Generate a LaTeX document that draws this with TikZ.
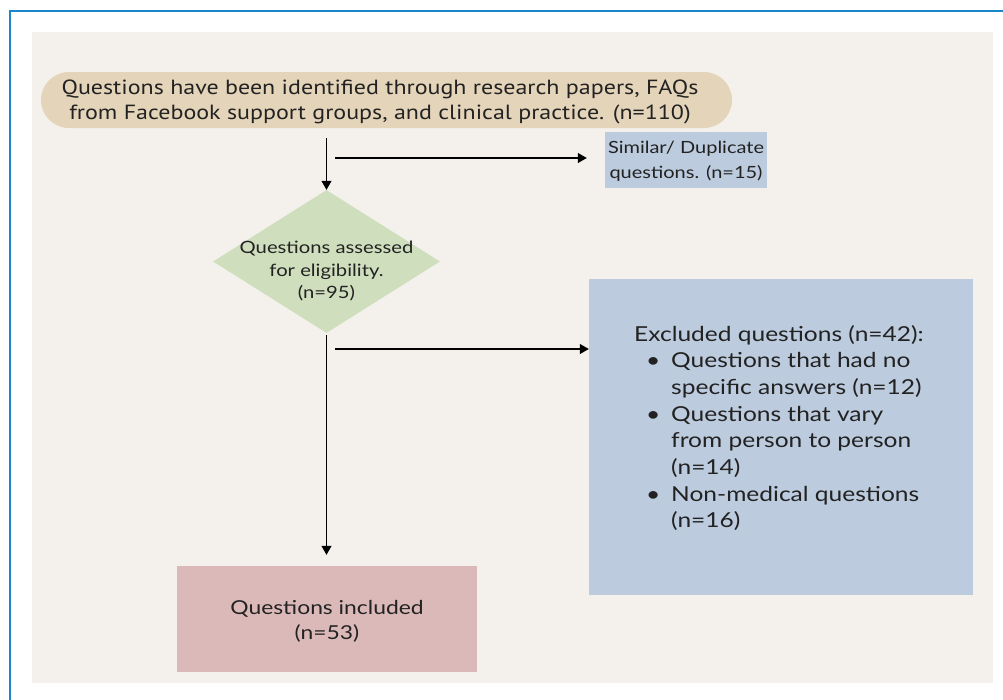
\documentclass[tikz,border=0pt]{standalone}
\usepackage{fontspec}
\setmainfont{Lato}[FakeStretch=1.19]
\newfontfamily\pillfont{PT Sans}[FakeStretch=1.17]
\usetikzlibrary{arrows.meta,shapes.geometric}

\definecolor{frameblue}{HTML}{1B87C9}
\definecolor{panel}{HTML}{F4F1EC}
\definecolor{pilltan}{HTML}{E4D4B9}
\definecolor{boxblue}{HTML}{BCCBDD}
\definecolor{diagreen}{HTML}{CFDFBE}
\definecolor{boxrose}{HTML}{DCB9B9}
\definecolor{ink}{HTML}{222222}

% bullet item helpers for the exclusion list
\newcommand\bulitem{\makebox[37pt][l]{\hspace{12pt}\textbullet}}
\newcommand\bulcont{\hspace{37pt}}

\begin{document}
\begin{tikzpicture}[x=1pt,y=-1pt,
  every node/.style={text=ink},
  boxnode/.style={rectangle, inner sep=0pt, draw=none},
  txt/.style={inner sep=0pt, align=center},
  arr/.style={draw=black, line width=1.1pt, -{Triangle[length=9pt,width=10pt]}},
]
\useasboundingbox (0,0) rectangle (1003,699);
\fill[white] (0,0) rectangle (1003,699);
\draw[frameblue, line width=2.4pt] (10,712) -- (10,11) -- (1016,11);
\fill[panel] (32,32) rectangle (993,683);

% source box
\node[boxnode, fill=pilltan, minimum width=691pt, minimum height=56pt,
      rounded corners=28pt] (src) at (386.5,100) {};
\node[txt, font=\pillfont\fontsize{20.5}{25}\selectfont] (srct) at (380,102)
  {Questions have been identified through research papers, FAQs\\
   from Facebook support groups, and clinical practice. (n=110)};

% duplicates box
\node[boxnode, fill=boxblue, minimum width=162pt, minimum height=56pt] (dup) at (686,160) {};
\node[txt, font=\fontsize{16.8}{25}\selectfont] (dupt) at (686,161)
  {Similar/ Duplicate\\questions. (n=15)};

% eligibility decision
\node[diamond, inner sep=0pt, fill=diagreen, minimum width=227pt, minimum height=143pt,
      aspect=1.587] (elig) at (326.5,261.5) {};
\node[txt, font=\fontsize{17}{22.5}\selectfont] (eligt) at (326.5,271)
  {Questions assessed\\for eligibility.\\(n=95)};

% excluded box
\node[boxnode, fill=boxblue, minimum width=384pt, minimum height=316pt] (excl) at (781,437) {};
\node[inner sep=0pt, align=left, anchor=west, font=\fontsize{20.6}{26.7}\selectfont] (exclt) at (634,428)
  {Excluded questions (n=42):\\
   \bulitem Questions that had no\\
   \bulcont specific answers (n=12)\\
   \bulitem Questions that vary\\
   \bulcont from person to person\\
   \bulcont (n=14)\\
   \bulitem Non-medical questions\\
   \bulcont (n=16)};

% included box
\node[boxnode, fill=boxrose, minimum width=300pt, minimum height=106pt] (incl) at (327,619) {};
\node[txt, font=\fontsize{19.2}{25}\selectfont] (inclt) at (327,621)
  {Questions included\\(n=53)};

% connectors
\coordinate (br1) at (335,158);
\coordinate (br2) at (335,349);
\draw[arr, shorten <=10pt] (elig.north |- src.south) -- (elig.north);
\draw[arr, shorten >=18pt] (br1) -- (dup.west |- br1);
\draw[arr, shorten <=2pt, shorten >=11pt] (elig.south) -- (elig.south |- incl.north);
\draw[arr] (br2) -- (excl.west |- br2);
\end{tikzpicture}
\end{document}
